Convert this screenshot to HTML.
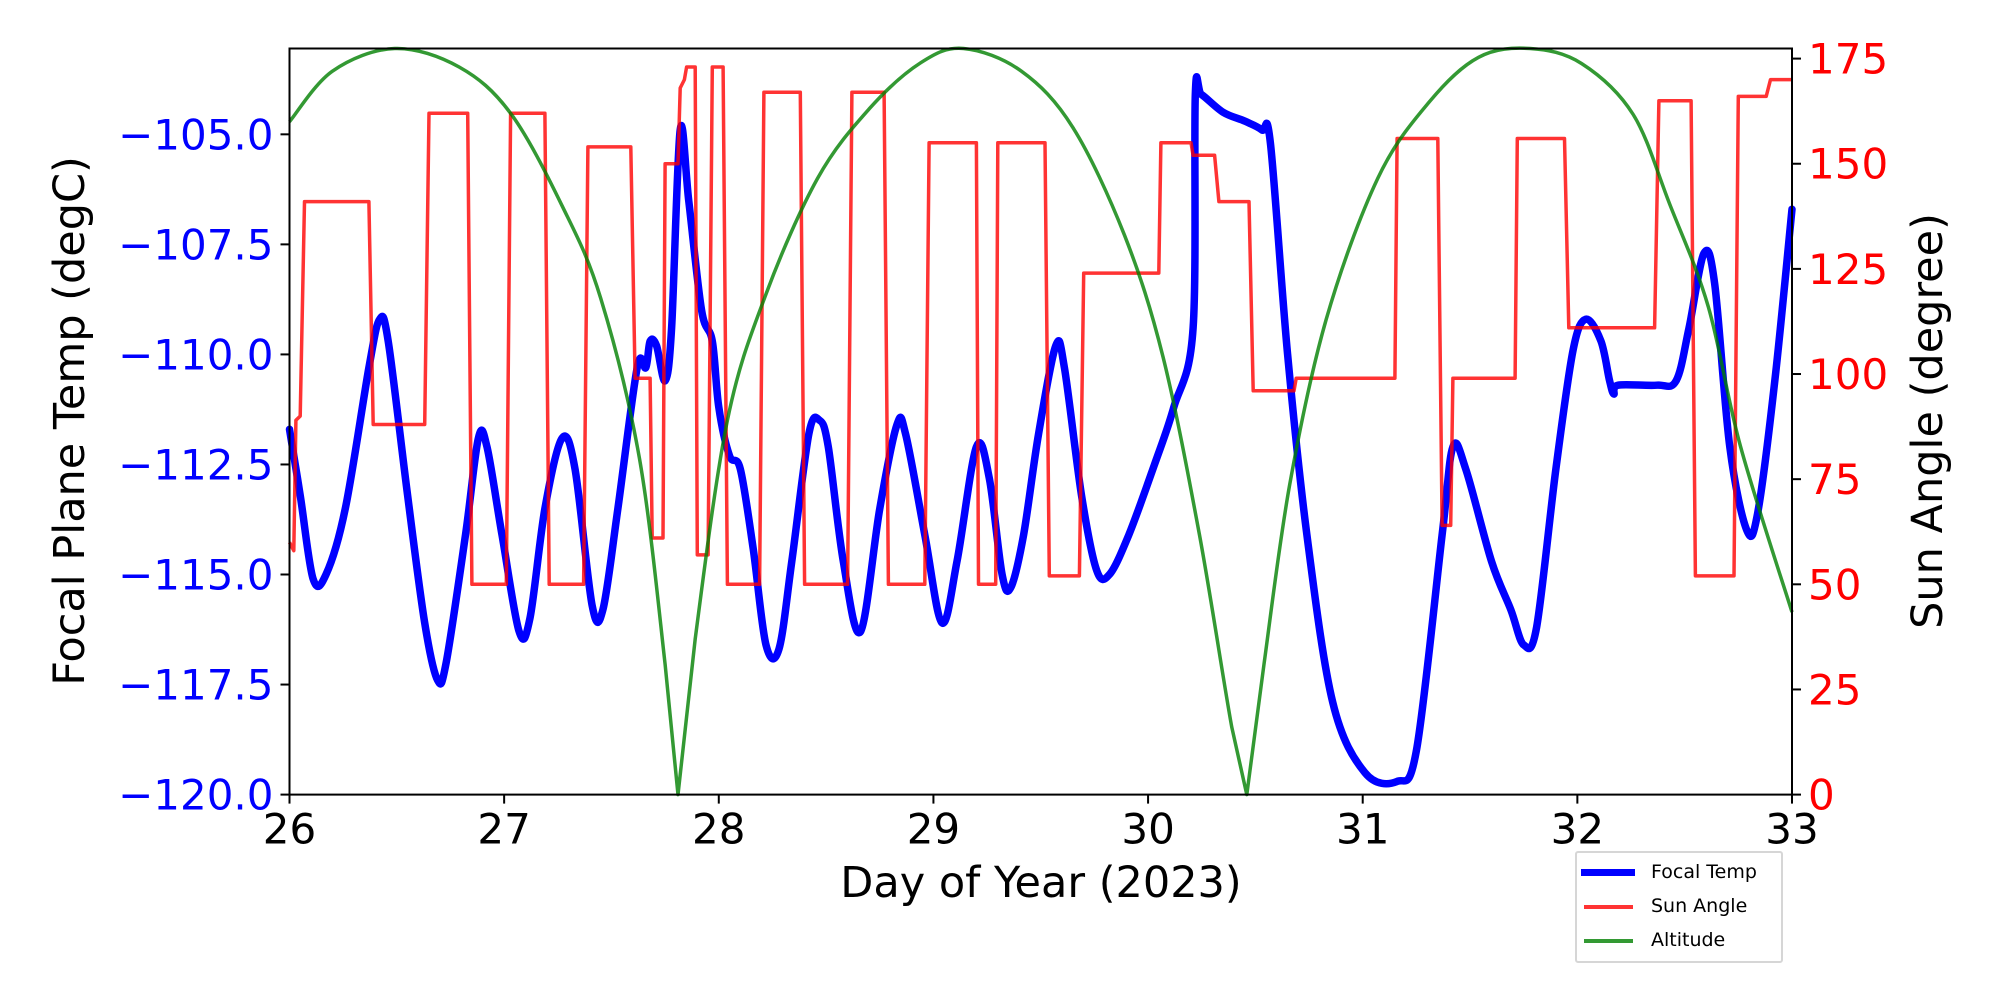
<!DOCTYPE html>
<html><head><meta charset="utf-8"><style>
body{margin:0;background:#fff;}
svg{display:block;font-family:"DejaVu Sans","Liberation Sans",sans-serif;}
</style></head><body>
<svg id="chart" width="2000" height="1000" viewBox="0 0 2000 1000">
<rect width="2000" height="1000" fill="#fff"/>
<g id="plot"></g>
<g id="axes"></g>
</svg>
<script>
const xTicks=[26,27,28,29,30,31,32,33];
const leftTicks=[-120,-117.5,-115,-112.5,-110,-107.5,-105];
const leftTickLabels=["\u2212120.0","\u2212117.5","\u2212115.0","\u2212112.5","\u2212110.0","\u2212107.5","\u2212105.0"];
const rightTicks=[0,25,50,75,100,125,150,175];
const tempDays=[26.0,26.05,26.11,26.17,26.26,26.37,26.42,26.46,26.55,26.63,26.69,26.73,26.82,26.88,26.92,26.99,27.07,27.12,27.19,27.27,27.33,27.41,27.46,27.53,27.62,27.66,27.68,27.71,27.75,27.78,27.82,27.86,27.92,27.97,28.0,28.05,28.1,28.16,28.22,28.28,28.34,28.42,28.47,28.51,28.58,28.66,28.75,28.83,28.87,28.96,29.04,29.11,29.2,29.26,29.32,29.36,29.42,29.49,29.57,29.61,29.69,29.76,29.82,29.91,30.03,30.12,30.21,30.22,30.25,30.35,30.45,30.53,30.57,30.65,30.74,30.86,31.01,31.16,31.25,31.37,31.42,31.48,31.6,31.69,31.75,31.81,31.9,31.98,32.04,32.11,32.15,32.17,32.19,32.37,32.46,32.52,32.59,32.64,32.71,32.79,32.84,32.92,33.0];
const tempVals=[-111.7,-113.2,-115.1,-115,-113.5,-110.3,-109.2,-109.7,-113.2,-116.1,-117.4,-117,-114.1,-111.9,-112.1,-114.1,-116.3,-116,-113.5,-111.9,-112.6,-115.7,-115.8,-113.5,-110.3,-110.3,-109.7,-109.8,-110.6,-109.4,-104.9,-106.5,-109,-109.7,-111.2,-112.3,-112.6,-114.4,-116.6,-116.7,-114.7,-111.8,-111.5,-112.1,-114.7,-116.3,-113.5,-111.6,-111.8,-114.1,-116.1,-114.7,-112.1,-112.8,-115,-115.3,-114.1,-111.8,-109.8,-110.3,-113.2,-114.9,-115,-114.1,-112.5,-111.2,-109.4,-104.1,-104.1,-104.5,-104.7,-104.9,-105.2,-110,-114.1,-117.9,-119.5,-119.7,-119,-114.1,-112.1,-112.6,-114.7,-115.8,-116.6,-116.2,-112.6,-109.9,-109.2,-109.7,-110.6,-110.9,-110.7,-110.7,-110.6,-109.4,-107.7,-108.4,-112.1,-114,-113.6,-110.6,-106.7];
const sunDays=[26.00,26.02,26.03,26.05,26.07,26.37,26.39,26.63,26.65,26.83,26.85,27.01,27.03,27.19,27.21,27.37,27.39,27.59,27.61,27.68,27.69,27.74,27.75,27.81,27.82,27.84,27.85,27.89,27.90,27.95,27.97,28.02,28.04,28.19,28.21,28.38,28.40,28.60,28.62,28.77,28.79,28.96,28.98,29.20,29.21,29.29,29.30,29.52,29.54,29.68,29.70,30.05,30.06,30.20,30.21,30.31,30.33,30.47,30.49,30.68,30.69,31.15,31.16,31.35,31.37,31.41,31.42,31.71,31.72,31.94,31.96,32.36,32.38,32.53,32.55,32.73,32.75,32.88,32.90,33.0];
const sunVals=[60,58,89,90,141,141,88,88,162,162,50,50,162,162,50,50,154,154,99,99,61,61,150,150,168,170,173,173,57,57,173,173,50,50,167,167,50,50,167,167,50,50,155,155,50,50,155,155,52,52,124,124,155,155,152,152,141,141,96,96,99,99,156,156,64,64,99,99,156,156,111,111,165,165,52,52,166,166,170,170];
const altDays=[26.0,26.2,26.49,26.79,27.03,27.27,27.45,27.63,27.75,27.81,27.89,28.04,28.22,28.46,28.7,28.94,29.14,29.41,29.65,29.89,30.07,30.24,30.39,30.46,30.54,30.66,30.83,31.07,31.31,31.54,31.78,32.02,32.26,32.43,32.61,32.76,33.0];
const altVals=[160,172,177.4,173,162,140,118,80,31,0,37,89,119,146.5,163,174,177.4,172,158.6,133,104,61.6,16,0,31,73.7,113,146.5,164.7,175.3,177.4,173.8,161.7,140.4,116,82.8,43.4];

const L=289.5,R=1792,T=48.5,B=794.6;
const X=d=>L+(d-26)/7*(R-L);
const YL=v=>B-(v+120)/16.95*(B-T);
const YR=v=>B-v/177.4*(B-T);
const NS="http://www.w3.org/2000/svg";
const plot=document.getElementById('plot'), axes=document.getElementById('axes');
function mk(tag,attrs,parent){const e=document.createElementNS(NS,tag);for(const k in attrs)e.setAttribute(k,attrs[k]);parent.appendChild(e);return e;}
function pathOf(xs,ys,fy){return xs.map((d,i)=>(i?'L':'M')+X(d).toFixed(1)+' '+fy(ys[i]).toFixed(1)).join(' ');}
function smoothOf(xs,ys,fy,sharp){
  const P=xs.map((d,i)=>[X(d),fy(ys[i])]);
  let s='M'+P[0][0].toFixed(1)+' '+P[0][1].toFixed(1);
  for(let i=0;i<P.length-1;i++){
    const p0=P[i-1]||P[i],p1=P[i],p2=P[i+1],p3=P[i+2]||P[i+1];
    if(sharp&&(p1[1]>=B-0.5||p2[1]>=B-0.5)){s+=' L'+p2[0].toFixed(1)+' '+p2[1].toFixed(1);continue;}
    const t=1/6;
    const c1=[p1[0]+(p2[0]-p0[0])*t,p1[1]+(p2[1]-p0[1])*t];
    const c2=[p2[0]-(p3[0]-p1[0])*t,p2[1]-(p3[1]-p1[1])*t];
    s+=' C'+c1[0].toFixed(1)+' '+c1[1].toFixed(1)+' '+c2[0].toFixed(1)+' '+c2[1].toFixed(1)+' '+p2[0].toFixed(1)+' '+p2[1].toFixed(1);
  }
  return s;
}

let p=mk('path',{d:smoothOf(tempDays,tempVals,YL,false),fill:'none',stroke:'#0000ff','stroke-width':7.5,'stroke-linejoin':'round','stroke-linecap':'round'},plot);


p=mk('path',{d:pathOf(sunDays,sunVals,YR),fill:'none',stroke:'rgba(255,0,0,0.8)','stroke-width':3.5,'stroke-linejoin':'round'},plot);


p=mk('path',{d:smoothOf(altDays,altVals,YR,true),fill:'none',stroke:'rgba(0,128,0,0.8)','stroke-width':3.5,'stroke-linejoin':'round'},plot);



let fr=mk('rect',{x:L,y:T,width:R-L,height:B-T,fill:'none',stroke:'#000','stroke-width':2},axes);



xTicks.forEach(t=>{
  const x=X(t);
  let l=mk('line',{x1:x,x2:x,y1:B,y2:B+9,stroke:'#000','stroke-width':2},axes);
  
  
  let tx=mk('text',{x:x,y:B+49,'text-anchor':'middle','font-size':42,fill:'#000'},axes);
  tx.textContent=t;
  
  
});
leftTicks.forEach((t,i)=>{
  const y=YL(t);
  let l=mk('line',{x1:L-9,x2:L,y1:y,y2:y,stroke:'#000','stroke-width':2},axes);
  
  
  let tx=mk('text',{x:L-16,y:y+15,'text-anchor':'end','font-size':42,fill:'#0000ff'},axes);
  tx.textContent=leftTickLabels[i];
  
  
});
rightTicks.forEach(t=>{
  const y=YR(t);
  let l=mk('line',{x1:R,x2:R+9,y1:y,y2:y,stroke:'#000','stroke-width':2},axes);
  
  
  let tx=mk('text',{x:R+16,y:y+15,'text-anchor':'start','font-size':42,fill:'#ff0000'},axes);
  tx.textContent=t;
  
  
});
</script>
<div style="position:absolute;left:0;top:0;width:2000px;height:1000px;pointer-events:none;font-family:'DejaVu Sans','Liberation Sans',sans-serif;">
  <div style="position:absolute;left:0;width:2000px;top:858px;text-align:center;font-size:43px;padding-left:82px;box-sizing:border-box;">Day of Year (2023)</div>
  <div style="position:absolute;left:70px;top:421px;transform:translate(-50%,-50%) rotate(-90deg);white-space:nowrap;font-size:43px;">Focal Plane Temp (degC)</div>
  <div style="position:absolute;left:1928px;top:421px;transform:translate(-50%,-50%) rotate(-90deg);white-space:nowrap;font-size:43px;">Sun Angle (degree)</div>
  <div style="position:absolute;left:1575px;top:851px;width:204px;height:108px;border:2px solid #d6d6d6;background:#fff;border-radius:3px;">
    <div style="position:absolute;left:4px;top:10px;height:20px;width:200px;">
      <div style="position:absolute;left:0;top:6px;width:54px;height:7px;background:#0000ff;"></div>
      <span style="position:absolute;left:70px;top:-2px;font-size:19px;">Focal Temp</span></div>
    <div style="position:absolute;left:4px;top:44px;height:20px;width:200px;">
      <div style="position:absolute;left:3px;top:8px;width:49px;height:4px;background:rgba(255,0,0,0.8);"></div>
      <span style="position:absolute;left:70px;top:-2px;font-size:19px;">Sun Angle</span></div>
    <div style="position:absolute;left:4px;top:78px;height:20px;width:200px;">
      <div style="position:absolute;left:3px;top:8px;width:49px;height:4px;background:rgba(0,128,0,0.8);"></div>
      <span style="position:absolute;left:70px;top:-2px;font-size:19px;">Altitude</span></div>
  </div>
</div>
</body></html>
